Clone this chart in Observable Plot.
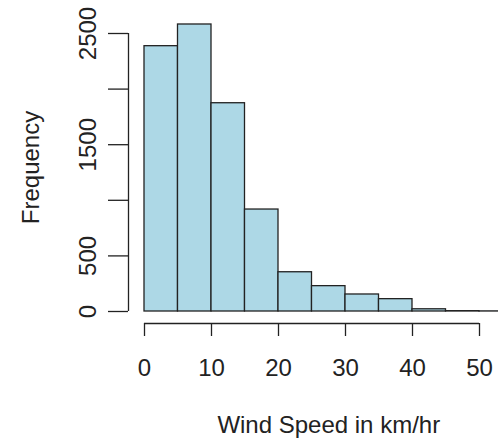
<!DOCTYPE html>
<html>
<head>
<meta charset="utf-8">
<script src="https://cdn.jsdelivr.net/npm/d3@7"></script>
<script src="https://cdn.jsdelivr.net/npm/@observablehq/plot@0.6"></script>
<style>
  html, body { margin: 0; padding: 0; background: #fff; }
  svg { display: block; }
</style>
</head>
<body>
<div id="chart"></div>
<script>
// Histogram bins (km/hr) and counts
const binLo  = [0, 5, 10, 15, 20, 25, 30, 35, 40, 45, 50];
const binHi  = [5, 10, 15, 20, 25, 30, 35, 40, 45, 50, 55];
const counts = [2386, 2581, 1873, 917, 353, 228, 153, 111, 20, 3, 1];

const yTicks = [0, 500, 1000, 1500, 2000, 2500];
const yTickLabels = [0, 500, 1500, 2500];
const xTicks = [0, 10, 20, 30, 40, 50];
const xTitle = "Wind Speed in km/hr";
const yTitle = "Frequency";

const bins = binLo.map((lo, i) => ({lo, hi: binHi[i], count: counts[i]}));
const xCenter = (d3.min(binLo) + d3.max(binHi)) / 2;

const font = "'Liberation Sans', Arial, Helvetica, sans-serif";
const ink = "#222";
const fs = 24;

const chart = Plot.plot({
  width: 498,
  height: 441,
  marginLeft: 144,
  marginRight: 19,
  marginTop: 33,
  marginBottom: 130,
  style: {fontFamily: font, background: "#fff", color: ink},
  x: {domain: [0, 50], axis: null},
  y: {domain: [0, 2500], axis: null},
  marks: [
    Plot.rectY(bins, {x1: "lo", x2: "hi", y: "count", fill: "#add8e6", stroke: ink, strokeWidth: 1.3}),
    // y axis (R style, detached)
    Plot.ruleX([0], {y1: 0, y2: 2500, dx: -16, stroke: ink, strokeWidth: 1.3}),
    Plot.axisY({ticks: yTicks, anchor: "left", tickSize: 20, dx: -16, tickFormat: () => "", label: null, stroke: ink, strokeWidth: 1.3}),
    Plot.text(yTickLabels, {y: d => d, text: d => String(d), frameAnchor: "left", dx: -56, rotate: -90, textAnchor: "middle", lineAnchor: "middle", fontSize: fs, fill: ink}),
    // x axis (R style, detached)
    Plot.ruleY([0], {x1: 0, x2: 50, dy: 12, stroke: ink, strokeWidth: 1.3}),
    Plot.axisX({ticks: xTicks, anchor: "bottom", tickSize: 13, dy: 12, tickFormat: () => "", label: null, stroke: ink, strokeWidth: 1.3}),
    Plot.text(xTicks, {x: d => d, text: d => String(d), frameAnchor: "bottom", dy: 57, lineAnchor: "middle", fontSize: fs, fill: ink}),
    // titles
    Plot.text([xTitle], {x: xCenter, text: d => d, frameAnchor: "bottom", dy: 114, lineAnchor: "middle", fontSize: fs, fill: ink}),
    Plot.text([yTitle], {text: d => d, frameAnchor: "left", dx: -113, dy: -5, rotate: -90, textAnchor: "middle", lineAnchor: "middle", fontSize: fs, fill: ink})
  ]
});
document.getElementById("chart").appendChild(chart);
</script>
</body>
</html>
